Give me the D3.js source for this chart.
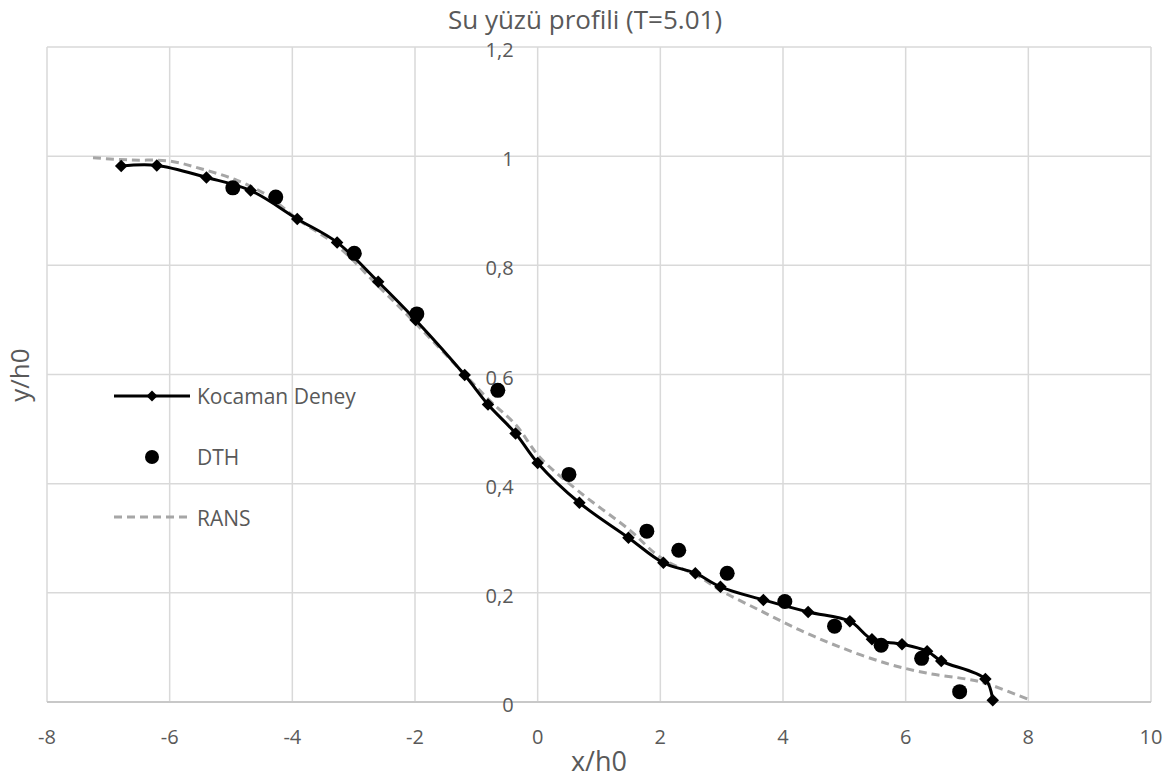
<!DOCTYPE html>
<html><head><meta charset="utf-8">
<script src="https://cdn.jsdelivr.net/npm/d3@7"></script>
<style>body{margin:0;background:#fff;} text{font-family:"Open Sans",sans-serif;}</style>
</head><body><svg id="c" width="1174" height="783"></svg>
<script>
const xTicks = [-8,-6,-4,-2,0,2,4,6,8,10];
const yTicks = [0,0.2,0.4,0.6,0.8,1,1.2];
const yTickLabels = ["0","0,2","0,4","0,6","0,8","1","1,2"];

const kocamanX = [-6.79,-6.21,-5.40,-4.68,-3.92,-3.27,-2.60,-1.99,-1.19,-0.81,-0.36,0.0,0.68,1.48,2.05,2.57,2.98,3.68,4.41,5.09,5.45,5.94,6.35,6.58,7.30,7.42];
const kocamanY = [0.982,0.983,0.961,0.937,0.885,0.842,0.770,0.700,0.599,0.545,0.492,0.438,0.365,0.301,0.255,0.236,0.211,0.187,0.165,0.148,0.115,0.106,0.093,0.075,0.042,0.003];

const dthX = [-4.97,-4.27,-2.99,-1.97,-0.65,0.51,1.78,2.30,3.09,4.03,4.84,5.60,6.26,6.88];
const dthY = [0.942,0.925,0.822,0.711,0.571,0.417,0.313,0.278,0.236,0.184,0.139,0.104,0.080,0.019];

const ransX = [-7.25,-6.65,-6.0,-5.46,-4.91,-4.42,-3.92,-3.27,-2.6,-2.0,-1.19,-0.79,-0.35,0.03,0.68,1.5,2.0,2.64,2.97,3.62,4.27,4.92,5.68,6.34,6.99,7.31,8.02];
const ransY = [0.997,0.993,0.991,0.976,0.956,0.929,0.885,0.836,0.762,0.695,0.600,0.553,0.507,0.449,0.385,0.315,0.265,0.229,0.205,0.168,0.132,0.101,0.071,0.053,0.042,0.034,0.004];

const seriesNames = ["Kocaman Deney","DTH","RANS"];
const title = "Su yüzü profili (T=5.01)";

const svg = d3.select("#c");
const L=47, R=1151, T=47, B=702;
const x = d3.scaleLinear().domain([-8,10]).range([L,R]);
const y = d3.scaleLinear().domain([0,1.2]).range([B,T]);
const grid = "#d9d9d9", txt = "#595959";

// gridlines
svg.append("g").selectAll("line").data(xTicks).join("line")
  .attr("x1",d=>x(d)).attr("x2",d=>x(d)).attr("y1",T).attr("y2",B)
  .attr("stroke",grid).attr("stroke-width",1.5);
svg.append("g").selectAll("line").data(yTicks).join("line")
  .attr("x1",L).attr("x2",R).attr("y1",d=>y(d)).attr("y2",d=>y(d))
  .attr("stroke",d=>d===0?"#c8c8c8":grid).attr("stroke-width",d=>d===0?2:1.5);

// x tick labels
svg.append("g").selectAll("text").data(xTicks).join("text")
  .attr("x",d=>x(d)).attr("y",744).attr("text-anchor","middle")
  .attr("font-size",20).attr("fill",txt).text(d=>d);
// y tick labels (at x=0)
svg.append("g").selectAll("text").data(yTicks).join("text")
  .attr("x",x(0)-24).attr("y",d=>y(d)+10).attr("text-anchor","end")
  .attr("font-size",20).attr("fill",txt).text((d,i)=>yTickLabels[i]);

// titles
svg.append("text").attr("x",585).attr("y",29).attr("text-anchor","middle")
  .attr("font-size",26).attr("fill",txt).text(title);
svg.append("text").attr("x",599).attr("y",771).attr("text-anchor","middle")
  .attr("font-size",27).attr("fill",txt).text("x/h0");
svg.append("text").attr("transform","translate(29,375) rotate(-90)").attr("text-anchor","middle")
  .attr("font-size",26).attr("fill",txt).text("y/h0");

const curve = d3.curveCatmullRom.alpha(0.5);
const line = d3.line().x(d=>x(d[0])).y(d=>y(d[1])).curve(curve);
const kData = kocamanX.map((v,i)=>[v,kocamanY[i]]);
const dData = dthX.map((v,i)=>[v,dthY[i]]);
const rData = ransX.map((v,i)=>[v,ransY[i]]);

svg.append("path").datum(rData).attr("d",line).attr("fill","none")
  .attr("stroke","#a6a6a6").attr("stroke-width",3).attr("stroke-dasharray","8,5");
svg.append("path").datum(kData).attr("d",line).attr("fill","none")
  .attr("stroke","#000").attr("stroke-width",3);
const sq = d3.symbol().type(d3.symbolSquare).size(78);
svg.append("g").selectAll("path").data(kData).join("path")
  .attr("d",sq).attr("transform",d=>`translate(${x(d[0])},${y(d[1])}) rotate(45)`)
  .attr("fill","#000");
svg.append("g").selectAll("circle").data(dData).join("circle")
  .attr("cx",d=>x(d[0])).attr("cy",d=>y(d[1])).attr("r",7.5).attr("fill","#000");

// legend
const lg = svg.append("g");
lg.append("line").attr("x1",114).attr("x2",190).attr("y1",396).attr("y2",396).attr("stroke","#000").attr("stroke-width",3);
lg.append("path").attr("d",d3.symbol().type(d3.symbolSquare).size(60)).attr("transform","translate(152,396) rotate(45)").attr("fill","#000");
lg.append("circle").attr("cx",152).attr("cy",457).attr("r",7).attr("fill","#000");
lg.append("line").attr("x1",114).attr("x2",190).attr("y1",517).attr("y2",517).attr("stroke","#a6a6a6").attr("stroke-width",3).attr("stroke-dasharray","8,5");
lg.selectAll("text.l").data(seriesNames).join("text").attr("class","l")
  .attr("x",197).attr("y",(d,i)=>396+i*61+8).attr("font-size",21).attr("fill",txt).text(d=>d);
</script></body></html>
